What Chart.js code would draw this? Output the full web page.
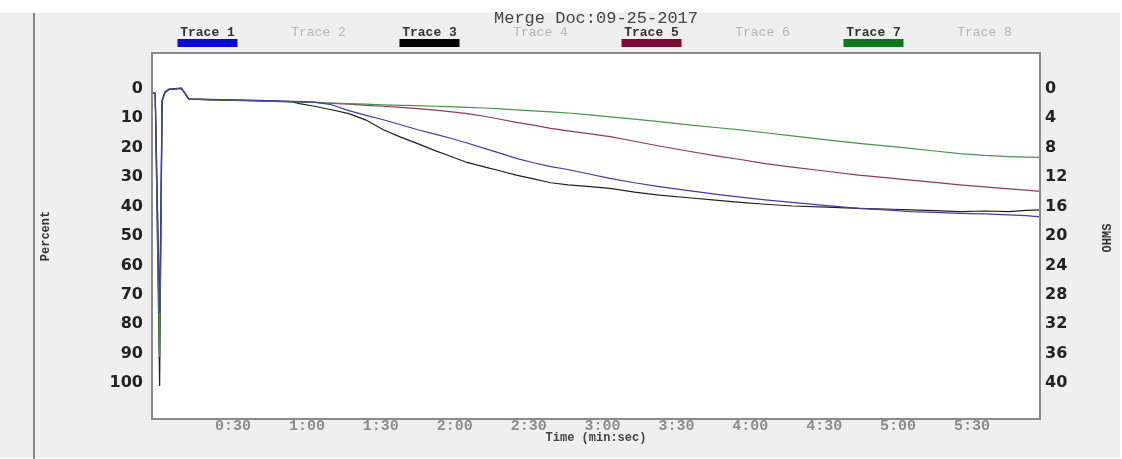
<!DOCTYPE html>
<html>
<head>
<meta charset="utf-8">
<script src="https://cdn.jsdelivr.net/npm/chart.js@4.4.1/dist/chart.umd.min.js"></script>
<style>
  html, body { margin: 0; padding: 0; background: #fff; }
  #panel { position: absolute; left: 0; top: 13px; width: 1120px; height: 445px; background: #efefef; }
  #rule { position: absolute; left: 33px; top: 13px; width: 2px; height: 446px; background: #8a8a8a; }
  #chart { position: absolute; left: 0; top: 0; }
</style>
</head>
<body>
<div id="panel"></div>
<div id="rule"></div>
<canvas id="chart" width="1122" height="459"></canvas>
<script>
// time in seconds, values in percent
var times = [-2.9, -1.6, 0.2, 1.2, 2.4, 4, 9, 10.5, 12, 25, 40, 54, 57, 63, 70, 77, 84, 91, 98, 105,
    112, 118, 125, 132, 139, 145, 152, 159, 166, 175, 183, 193, 203, 215, 228, 236, 246, 257, 271, 284,
    298, 305, 315, 325, 335, 345, 352, 357.6];

var trace1 = [1.3, 1.5, 76, 4, 1.0, 0.1, -0.3, 1.4, 3.4, 3.6, 3.9, 4.2, 4.3, 4.5, 5.4, 7.4, 9.0, 10.5, 12.2, 13.9,
    15.4, 16.7, 18.4, 20.2, 22.0, 23.6, 25.1, 26.4, 27.4, 29.0, 30.4, 31.9, 33.2, 34.6, 36.0, 36.8, 37.7, 38.6, 39.7, 40.6,
    41.3, 41.7, 42.0, 42.3, 42.5, 42.8, 43.1, 43.5];
var trace3 = [1.3, 1.5, 101, 4, 1.2, 0.2, -0.2, 1.5, 3.5, 3.8, 4.1, 4.4, 5.0, 5.9, 7.1, 8.4, 10.6, 13.9, 16.4, 18.6,
    21.0, 22.8, 25.0, 26.5, 28.0, 29.3, 30.6, 31.9, 32.6, 33.2, 33.8, 35.1, 36.1, 37.0, 38.0, 38.6, 39.2, 39.8, 40.2, 40.6,
    40.9, 41.1, 41.4, 41.7, 41.5, 41.7, 41.3, 41.1];
var trace5 = [1.3, 1.5, 80, 4, 1.1, 0.2, -0.2, 1.5, 3.5, 3.7, 4.0, 4.3, 4.4, 4.6, 4.9, 5.2, 5.6, 5.9, 6.3, 6.7,
    7.2, 7.7, 8.4, 9.3, 10.4, 11.4, 12.3, 13.4, 14.3, 15.3, 16.2, 17.8, 19.4, 21.2, 23.0, 24.0, 25.4, 26.6, 28.0, 29.3,
    30.4, 31.0, 31.8, 32.6, 33.3, 34.0, 34.4, 34.8];
var trace7 = [1.3, 1.5, 91, 4, 1.0, 0.1, -0.3, 1.4, 3.5, 3.7, 4.0, 4.3, 4.4, 4.6, 4.8, 5.0, 5.2, 5.4, 5.6, 5.7,
    5.9, 6.0, 6.3, 6.5, 6.8, 7.1, 7.5, 7.8, 8.2, 8.8, 9.5, 10.3, 11.1, 12.2, 13.3, 13.9, 14.9, 16.0, 17.3, 18.5,
    19.6, 20.2, 21.1, 22.0, 22.6, 23.0, 23.2, 23.3];

var traceNames = ['Trace 1', 'Trace 2', 'Trace 3', 'Trace 4', 'Trace 5', 'Trace 6', 'Trace 7', 'Trace 8'];
var traceColors = ['#0a0ad8', null, '#000000', null, '#7e0a36', null, '#0a7a1a', null];
var lineColors = ['#3c3cac', '#202020', '#94385a', '#469446'];

var percentTicks = [0, 10, 20, 30, 40, 50, 60, 70, 80, 90, 100];
var ohmTicks = [0, 4, 8, 12, 16, 20, 24, 28, 32, 36, 40];
var timeTicks = [30, 60, 90, 120, 150, 180, 210, 240, 270, 300, 330];

var titleText = 'Merge Doc:09-25-2017';
var ohmsTitle = 'OHMS';

function toPoints(vals){
    var pts = [];
    for(var i = 0; i < times.length; i++){
        pts.push({ x: times[i], y: vals[i] });
    }
    return pts;
}

function mmss(v){
    var m = Math.floor(v / 60);
    var s = v % 60;
    return m + ':' + (s < 10 ? '0' : '') + s;
}

const frame = {
    id: 'frame',
    beforeDraw(chart){
        const a = chart.chartArea;
        const ctx = chart.ctx;
        ctx.save();
        ctx.fillStyle = '#ffffff';
        ctx.fillRect(a.left, a.top, a.right - a.left, a.bottom - a.top);
        ctx.restore();
    },
    afterDatasetsDraw(chart){
        const a = chart.chartArea;
        const ctx = chart.ctx;
        ctx.save();
        ctx.strokeStyle = '#8a8a8a';
        ctx.lineWidth = 2;
        ctx.strokeRect(a.left, a.top, a.right - a.left, a.bottom - a.top);
        ctx.restore();
    },
    afterDraw(chart){
        const a = chart.chartArea;
        const ctx = chart.ctx;
        ctx.save();
        ctx.textAlign = 'center';
        ctx.textBaseline = 'middle';
        ctx.fillStyle = '#444';
        ctx.font = '17px "Liberation Mono"';
        ctx.fillText(titleText, (a.left + a.right) / 2, 18);
        var slot = (a.right - a.left) / traceNames.length;
        for(var i = 0; i < traceNames.length; i++){
            var cx = a.left + slot * (i + 0.5);
            if(traceColors[i]){
                ctx.font = 'bold 13px "Liberation Mono"';
                ctx.fillStyle = '#333';
                ctx.fillText(traceNames[i], cx, 33);
                ctx.fillStyle = traceColors[i];
                ctx.fillRect(cx - 30, 39, 60, 8);
            } else {
                ctx.font = '13px "Liberation Mono"';
                ctx.fillStyle = '#b4b4b4';
                ctx.fillText(traceNames[i], cx, 33);
            }
        }
        // right axis title reads bottom to top, like the left one
        ctx.translate(1108, (a.top + a.bottom) / 2 + 2);
        ctx.rotate(-Math.PI / 2);
        ctx.font = 'bold 12px "Liberation Mono"';
        ctx.fillStyle = '#333';
        ctx.fillText(ohmsTitle, 0, 0);
        ctx.restore();
    }
};

const data = {
    datasets: [{
        label: 'Trace 1',
        data: toPoints(trace1),
        borderColor: lineColors[0],
        order: 0
    },{
        label: 'Trace 3',
        data: toPoints(trace3),
        borderColor: lineColors[1],
        order: 2
    },{
        label: 'Trace 5',
        data: toPoints(trace5),
        borderColor: lineColors[2],
        order: 3
    },{
        label: 'Trace 7',
        data: toPoints(trace7),
        borderColor: lineColors[3],
        order: 1
    }]
};

const config = {
    type: 'line',
    data,
    options: {
        responsive: false,
        animation: false,
        devicePixelRatio: 1,
        layout: { padding: { left: 35, top: 53, right: 0, bottom: 0 } },
        elements: {
            line: { borderWidth: 1.2, tension: 0, fill: false },
            point: { radius: 0 }
        },
        plugins: {
            legend: { display: false },
            tooltip: { enabled: false }
        },
        scales: {
            x: {
                type: 'linear',
                min: -2.9,
                max: 357.6,
                grid: { display: false, drawTicks: false },
                border: { display: false },
                afterBuildTicks: function(s){ s.ticks = timeTicks.map(function(v){ return { value: v }; }); },
                afterFit: function(s){ s.height = 40; },
                ticks: {
                    padding: -2,
                    color: '#8c8c8c',
                    font: { family: 'Liberation Mono', size: 15, weight: 'bold' },
                    callback: function(v){ return mmss(v); }
                },
                title: {
                    display: true,
                    text: 'Time (min:sec)',
                    color: '#444',
                    font: { family: 'Liberation Mono', size: 12, weight: 'bold' },
                    padding: { top: 0, bottom: 14 }
                }
            },
            y: {
                position: 'left',
                reverse: true,
                min: -12.2,
                max: 112.2,
                grid: { display: false, drawTicks: false },
                border: { display: false },
                afterBuildTicks: function(s){ s.ticks = percentTicks.map(function(v){ return { value: v }; }); },
                afterFit: function(s){ s.width = 117; },
                ticks: {
                    padding: 9,
                    color: '#222',
                    font: { family: 'DejaVu Sans', size: 16, weight: 'bold' }
                },
                title: {
                    display: true,
                    text: 'Percent',
                    color: '#333',
                    font: { family: 'Liberation Mono', size: 12, weight: 'bold' },
                    padding: { top: 4, bottom: 4 }
                }
            },
            y2: {
                position: 'right',
                reverse: true,
                min: -12.2 * 0.4,
                max: 112.2 * 0.4,
                grid: { display: false, drawTicks: false },
                border: { display: false },
                afterBuildTicks: function(s){ s.ticks = ohmTicks.map(function(v){ return { value: v }; }); },
                afterFit: function(s){ s.width = 82; },
                ticks: {
                    padding: 5,
                    color: '#222',
                    font: { family: 'DejaVu Sans', size: 16, weight: 'bold' }
                }
            }
        }
    },
    plugins: [frame]
};

const ctx = document.getElementById('chart').getContext('2d');
const myChart = new Chart(ctx, config);
</script>
</body>
</html>
